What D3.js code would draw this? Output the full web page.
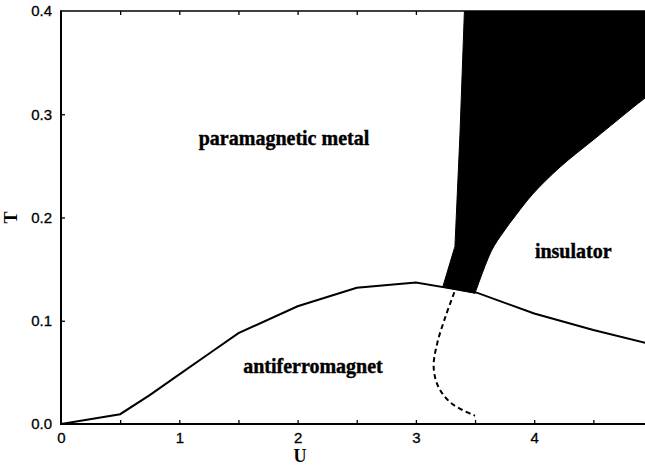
<!DOCTYPE html>
<html>
<head>
<meta charset="utf-8">
<script src="https://cdn.jsdelivr.net/npm/d3@7"></script>
<style>
  html, body { margin: 0; padding: 0; background: #fff; overflow: hidden; }
  svg { display: block; }
</style>
</head>
<body>
<svg id="chart" width="645" height="465"></svg>
<script>
// Phase diagram of the Hubbard model: T versus U.

// Néel temperature of the antiferromagnet (solid line)
const afU = [0, 0.5, 0.75, 1, 1.25, 1.5, 2, 2.5, 3, 3.52, 4, 4.5, 5];
const afT = [0, 0.0095, 0.028, 0.048, 0.068, 0.088, 0.114, 0.132, 0.137, 0.127, 0.107, 0.091, 0.077];

// Coexistence region (filled): left boundary, bottom -> top
const coexLeftU = [3.227, 3.33, 3.373, 3.41];
const coexLeftT = [0.1327, 0.172, 0.282, 0.4];
// Coexistence region: right boundary, top -> bottom
const coexRightU = [5.0, 4.94, 4.84, 4.53, 4.22, 3.99, 3.85, 3.74, 3.64, 3.50];
const coexRightT = [0.322, 0.316, 0.307, 0.278, 0.249, 0.223, 0.203, 0.186, 0.168, 0.1266];

// Metal-insulator transition inside the antiferromagnet (dashed)
const mitU = [3.325, 3.25, 3.18, 3.15, 3.19, 3.30, 3.50];
const mitT = [0.1276, 0.104, 0.078, 0.0555, 0.036, 0.020, 0.008];

const xTickLabels = [0, 1, 2, 3, 4, 5];
const yTickLabels = [0.0, 0.1, 0.2, 0.3, 0.4];
const xMinorTicks = [0.5, 1, 1.5, 2, 2.5, 3, 3.5, 4, 4.5];

const regionLabels = ["paramagnetic metal", "antiferromagnet", "insulator"];
const regionU = [1.885, 2.13, 4.33];
const regionT = [0.270, 0.0494, 0.161];

const svg = d3.select("#chart");
const x = d3.scaleLinear().domain([0, 5]).range([61, 652.5]);
const y = d3.scaleLinear().domain([0, 0.4]).range([424, 11]);

const serif = "'Liberation Serif', 'Times New Roman', serif";
const sans = "'Liberation Sans', Arial, sans-serif";

svg.append("defs").append("clipPath").attr("id", "plot")
  .append("rect").attr("x", x(0)).attr("y", y(0.4))
  .attr("width", x(5) - x(0)).attr("height", y(0) - y(0.4));

const plot = svg.append("g").attr("clip-path", "url(#plot)");

// coexistence region: straight left edge, smooth right edge
const straight = d3.line().x(d => x(d[0])).y(d => y(d[1]));
const smooth = d3.line().curve(d3.curveCatmullRom).x(d => x(d[0])).y(d => y(d[1]));
const leftPts = coexLeftU.map((u, i) => [u, coexLeftT[i]]).concat([[5, 0.4]]);
const rightPts = coexRightU.map((u, i) => [u, coexRightT[i]]);
const coexPath = straight(leftPts) + "L" + smooth(rightPts).slice(1) + "Z";
plot.append("path")
  .attr("d", coexPath)
  .attr("fill", "#000").attr("stroke", "#000").attr("stroke-width", 1);

// antiferromagnetic boundary
const afPts = afU.map((u, i) => [u, afT[i]]);
plot.append("path")
  .attr("d", straight(afPts))
  .attr("fill", "none").attr("stroke", "#000").attr("stroke-width", 2);

// metal-insulator line within the antiferromagnet
const mitPts = mitU.map((u, i) => [u, mitT[i]]);
plot.append("path")
  .attr("d", smooth(mitPts))
  .attr("fill", "none").attr("stroke", "#000").attr("stroke-width", 2)
  .attr("stroke-dasharray", "5,3.5");

// axes
const xAxis = svg.append("g").attr("transform", `translate(0,${y(0)})`)
  .call(d3.axisBottom(x).tickValues(xTickLabels).tickSize(0).tickPadding(8)
    .tickFormat(d3.format("d")));
xAxis.select(".domain").remove();
xAxis.selectAll("text").attr("font-family", sans).attr("font-size", 15)
  .attr("fill", "#000").attr("stroke", "#000").attr("stroke-width", 0.3);

const yAxis = svg.append("g").attr("transform", `translate(${x(0)},0)`)
  .call(d3.axisLeft(y).tickValues(yTickLabels).tickSize(0).tickPadding(9)
    .tickFormat(d3.format(".1f")));
yAxis.select(".domain").remove();
yAxis.selectAll("text").attr("font-family", sans).attr("font-size", 15)
  .attr("fill", "#000").attr("stroke", "#000").attr("stroke-width", 0.3);

// inward ticks
const bottomTicks = svg.append("g").attr("transform", `translate(0,${y(0)})`)
  .call(d3.axisTop(x).tickValues(xMinorTicks).tickSize(4).tickFormat(""));
bottomTicks.select(".domain").remove();
bottomTicks.selectAll("line").attr("stroke-width", 1.3);
const topTicks = svg.append("g").attr("transform", `translate(0,${y(0.4)})`)
  .call(d3.axisBottom(x).tickValues(xMinorTicks).tickSize(4).tickFormat(""));
topTicks.select(".domain").remove();
topTicks.selectAll("line").attr("stroke-width", 1.3);
const leftTicks = svg.append("g").attr("transform", `translate(${x(0)},0)`)
  .call(d3.axisRight(y).tickValues([0.1, 0.2, 0.3]).tickSize(4).tickFormat(""));
leftTicks.select(".domain").remove();
leftTicks.selectAll("line").attr("stroke-width", 1.3);

// frame
svg.append("line").attr("x1", x(0)).attr("x2", x(5)).attr("y1", y(0)).attr("y2", y(0))
  .attr("stroke", "#000").attr("stroke-width", 2);
svg.append("line").attr("x1", x(0)).attr("x2", x(5)).attr("y1", y(0.4)).attr("y2", y(0.4))
  .attr("stroke", "#000").attr("stroke-width", 1.5);
svg.append("line").attr("x1", x(0)).attr("x2", x(0)).attr("y1", y(0) + 1).attr("y2", y(0.4) - 0.75)
  .attr("stroke", "#000").attr("stroke-width", 2);

// axis titles
svg.append("text").attr("x", 300).attr("y", 462)
  .attr("text-anchor", "middle").attr("font-family", serif).attr("font-weight", "bold")
  .attr("font-size", 18).text("U");
svg.append("text").attr("transform", `translate(17,${y(0.2)}) rotate(-90)`)
  .attr("text-anchor", "middle").attr("font-family", serif).attr("font-weight", "bold")
  .attr("font-size", 18).text("T");

// region labels
svg.selectAll(".region").data(regionLabels).enter().append("text")
  .attr("class", "region")
  .attr("x", (d, i) => x(regionU[i])).attr("y", (d, i) => y(regionT[i]))
  .attr("text-anchor", "middle").attr("font-family", serif).attr("font-weight", "bold")
  .attr("font-size", 20).attr("fill", "#000")
  .attr("stroke", "#000").attr("stroke-width", 0.4).text(d => d);
</script>
</body>
</html>
